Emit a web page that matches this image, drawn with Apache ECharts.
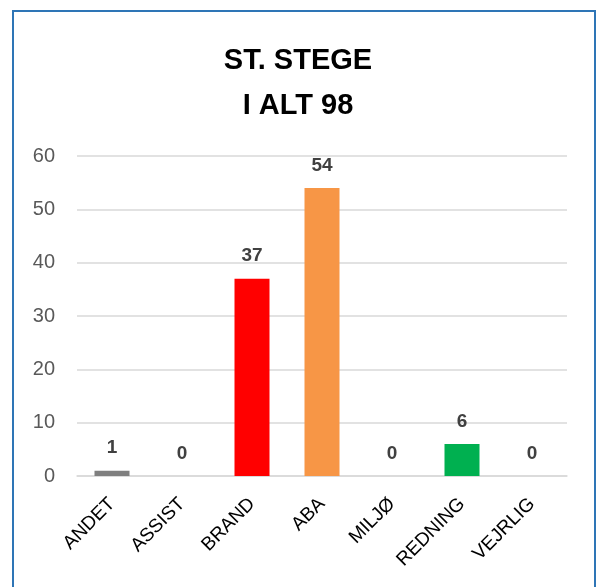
<!DOCTYPE html>
<html>
<head>
<meta charset="utf-8">
<script src="https://cdn.jsdelivr.net/npm/echarts@6/dist/echarts.min.js"></script>
<style>
  html, body { margin: 0; padding: 0; background: #fff; overflow: hidden; }
  #wrap { position: relative; width: 596px; height: 587px; }
  #chart { width: 596px; height: 587px; }
  #frame {
    position: absolute; left: 12px; top: 10px; width: 580px; height: 600px;
    border: 2px solid #2e75b6; pointer-events: none;
  }
</style>
</head>
<body>
<div id="wrap">
  <div id="chart"></div>
  <div id="frame"></div>
</div>
<script>
// kategorier og antal
var categories = ['ANDET', 'ASSIST', 'BRAND', 'ABA', 'MILJØ', 'REDNING', 'VEJRLIG']
var counts = [1, 0, 37, 54, 0, 6, 0]
var yTicks = [0, 10, 20, 30, 40, 50, 60]
var titleLines = ['ST. STEGE', 'I ALT 98']

var barColors = ['#7f7f7f', '#7f7f7f', '#ff0000', '#f79646', '#7f7f7f', '#00b050', '#7f7f7f']
var font = 'Liberation Sans'

var myChart = echarts.init(document.getElementById('chart'))
var option = {
  animation: false,
  title: {
    text: titleLines.join('\n'),
    left: 'center',
    top: 33,
    textStyle: {
      fontFamily: font,
      fontSize: 29,
      fontWeight: 'bold',
      color: '#000',
      lineHeight: 45
    }
  },
  grid: {
    left: 77,
    right: 29,
    top: 156,
    bottom: 111,
    containLabel: false
  },
  xAxis: {
    type: 'category',
    data: categories,
    axisTick: { show: false },
    axisLine: { lineStyle: { color: '#d9d9d9', width: 1.5 } },
    axisLabel: {
      rotate: 45,
      margin: 25,
      interval: 0,
      fontFamily: font,
      fontSize: 19,
      color: '#000'
    }
  },
  yAxis: {
    type: 'value',
    min: yTicks[0],
    max: yTicks[yTicks.length - 1],
    interval: 10,
    axisLine: { show: false },
    axisTick: { show: false },
    splitLine: { lineStyle: { color: '#d9d9d9', width: 1.5 } },
    axisLabel: {
      margin: 22,
      fontFamily: font,
      fontSize: 20,
      color: '#595959'
    }
  },
  series: [
    {
      type: 'bar',
      data: counts,
      barWidth: '50%',
      itemStyle: {
        color: function(p) { return barColors[p.dataIndex] }
      },
      label: {
        show: true,
        position: 'top',
        distance: 13,
        fontFamily: font,
        fontSize: 19,
        fontWeight: 'bold',
        color: '#404040'
      }
    }
  ]
}
myChart.setOption(option)
</script>
</body>
</html>
